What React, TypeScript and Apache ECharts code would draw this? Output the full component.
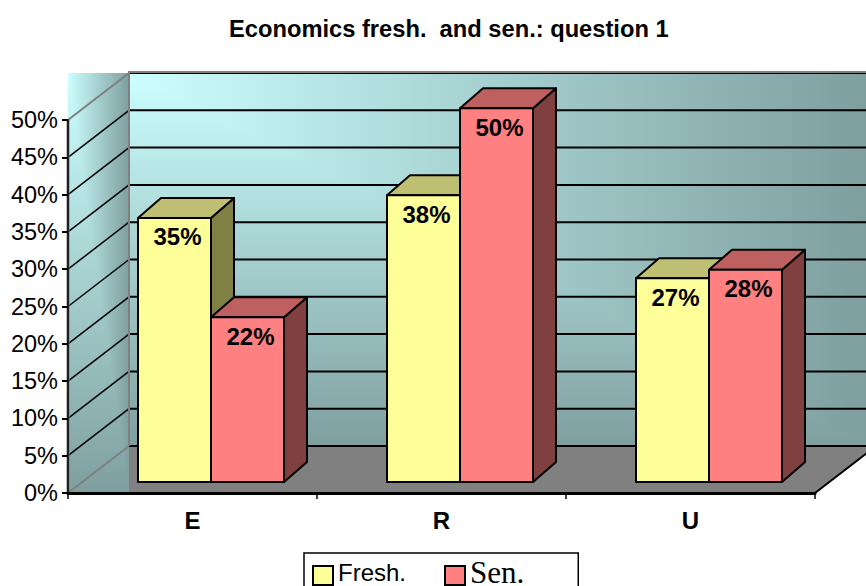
import React, { useEffect, useRef } from "react";
import * as echarts from "echarts";

const categories = ["E", "R", "U"];
const freshValues = [35.4, 38.45, 27.3];
const senValues = [22.1, 50.1, 28.45];
const yTicks = [0, 5, 10, 15, 20, 25, 30, 35, 40, 45, 50];
const titleText = "Economics fresh.  and sen.: question 1";

const SANS = '"Liberation Sans", Arial, sans-serif';
const SERIF = '"Liberation Serif", "Times New Roman", serif';
const WALL_DX = 61;
const WALL_DY = -47;
const FRONT_DX = 18.5;
const FRONT_DY = -11;
const BAR_W = 73;
const TOP_DX = 23;
const TOP_DY = -20;
const LIGHT = "#CCFFFF";
const DARK = "#7F9F9F";

// "From corner" shading: light in the top-left corner, darkening towards the right and bottom edges.
function cornerShade(x: number, y: number, w: number, h: number) {
  const stops = [
    { offset: 0, color: LIGHT },
    { offset: 1, color: DARK },
  ];
  return [
    {
      type: "rect",
      shape: { x, y, width: w, height: h },
      style: { fill: new echarts.graphic.LinearGradient(x, y, x + w, y, stops, true) },
    },
    {
      type: "polygon",
      shape: {
        points: [
          [x, y],
          [x + w, y + h],
          [x, y + h],
        ],
      },
      style: { fill: new echarts.graphic.LinearGradient(x, y, x, y + h, stops, true) },
    },
  ];
}

function renderWalls(params: any, api: any) {
  const cs = params.coordSys;
  const x0 = cs.x;
  const x1 = cs.x + cs.width;
  const yZero = api.coord([0, 0])[1];
  const yMax = api.coord([0, 50])[1];
  const children: any[] = [];
  const bx = x0 + WALL_DX;
  const topY = yMax + WALL_DY;
  const botY = yZero + WALL_DY;
  children.push(...cornerShade(bx, topY, x1 + WALL_DX - bx - 10, botY - topY));
  children.push({
    type: "polygon",
    shape: {
      points: [
        [bx, botY],
        [x1 + WALL_DX, botY],
        [x1, yZero],
        [x0, yZero],
      ],
    },
    style: { fill: "#808080" },
  });
  children.push(...cornerShade(x0, topY, WALL_DX, yZero - topY));
  yTicks.forEach((t) => {
    const y = api.coord([0, t])[1];
    const edge = t === 0 || t === 50;
    children.push({
      type: "line",
      shape: { x1: x0, y1: y, x2: bx, y2: y + WALL_DY },
      style: { stroke: edge ? "#808080" : "#000000", lineWidth: edge ? 2 : 1.5 },
    });
    children.push({
      type: "line",
      shape: { x1: bx, y1: y + WALL_DY, x2: x1 + WALL_DX, y2: y + WALL_DY },
      style: { stroke: "#000000", lineWidth: 2 },
    });
  });
  children.push({
    type: "line",
    shape: { x1: bx, y1: topY - 1, x2: x1 + WALL_DX, y2: topY - 1 },
    style: { stroke: "#808080", lineWidth: 2 },
  });
  children.push({
    type: "line",
    shape: { x1: bx, y1: topY - 2, x2: bx, y2: botY },
    style: { stroke: "#808080", lineWidth: 2 },
  });
  children.push({
    type: "line",
    shape: { x1: x0, y1: yMax, x2: x0, y2: yZero },
    style: { stroke: "#808080", lineWidth: 3 },
  });
  children.push({
    type: "line",
    shape: { x1: x1, y1: yZero, x2: x1 + WALL_DX, y2: botY },
    style: { stroke: "#000000", lineWidth: 2 },
  });
  return { type: "group", children };
}

function makeBarRenderer(side: number, front: string, top: string, dark: string) {
  return (params: any, api: any) => {
    const idx = api.value(0);
    const val = api.value(1);
    const c = api.coord([idx, val]);
    const z = api.coord([idx, 0]);
    const left = c[0] + FRONT_DX + (side === 0 ? -BAR_W : 0);
    const right = left + BAR_W;
    const yT = c[1] + FRONT_DY;
    const yB = z[1] + FRONT_DY;
    const line = { stroke: "#000000", lineWidth: 2, lineJoin: "round" };
    return {
      type: "group",
      children: [
        {
          type: "polygon",
          shape: {
            points: [
              [right, yT],
              [right + TOP_DX, yT + TOP_DY],
              [right + TOP_DX, yB + TOP_DY],
              [right, yB],
            ],
          },
          style: { fill: dark, ...line },
        },
        {
          type: "polygon",
          shape: {
            points: [
              [left, yT],
              [left + TOP_DX, yT + TOP_DY],
              [right + TOP_DX, yT + TOP_DY],
              [right, yT],
            ],
          },
          style: { fill: top, ...line },
        },
        {
          type: "rect",
          shape: { x: left, y: yT, width: BAR_W, height: yB - yT },
          style: { fill: front, ...line },
        },
        {
          type: "text",
          style: {
            text: Math.round(val) + "%",
            x: left + BAR_W / 2 + 3,
            y: yT + 19,
            align: "center",
            verticalAlign: "middle",
            fill: "#000000",
            fontFamily: SANS,
            fontWeight: "bold",
            fontSize: 24,
          },
        },
      ],
    };
  };
}

export default function App() {
  const ref = useRef<HTMLDivElement>(null);
  useEffect(() => {
    const chart = echarts.init(ref.current!, undefined, { renderer: "svg" });
    chart.setOption({
      animation: false,
      backgroundColor: "#ffffff",
      title: {
        text: titleText,
        left: 229,
        top: 17,
        padding: 0,
        textStyle: { fontFamily: SANS, fontWeight: "bold", fontSize: 23.7, color: "#000000" },
      },
      grid: { left: 68, right: 51, top: 120, bottom: 93 },
      xAxis: {
        type: "category",
        data: categories,
        z: 10,
        axisLine: { lineStyle: { color: "#000000", width: 3 } },
        axisTick: { show: true, length: 6, lineStyle: { color: "#000000", width: 1.5 } },
        axisLabel: { fontFamily: SANS, fontWeight: "bold", fontSize: 24, color: "#000000", margin: 15 },
      },
      yAxis: {
        type: "value",
        min: 0,
        max: 50,
        interval: 5,
        z: 10,
        axisLine: { show: true, lineStyle: { color: "#000000", width: 1.5 } },
        axisTick: { show: true, length: 6, lineStyle: { color: "#000000", width: 2 } },
        axisLabel: { formatter: "{value}%", fontFamily: SANS, fontSize: 23.5, color: "#000000", margin: 10 },
        splitLine: { show: false },
      },
      legend: {
        left: 304,
        top: 553,
        orient: "horizontal",
        data: ["Fresh.", "Sen."],
        padding: [4, 54, 20, 8],
        itemGap: 38,
        itemWidth: 20,
        itemHeight: 19,
        icon: "rect",
        borderColor: "#000000",
        borderWidth: 1.5,
        backgroundColor: "#ffffff",
        formatter: (name: string) => (name === "Fresh." ? `{a|${name}}` : `{b|${name}}`),
        textStyle: {
          rich: {
            a: { fontFamily: SANS, fontSize: 24, color: "#000000", lineHeight: 24, padding: [0, 0, 6, 0] },
            b: { fontFamily: SERIF, fontSize: 31, color: "#000000", lineHeight: 24, padding: [0, 0, 6, 0] },
          },
        },
      },
      series: [
        {
          type: "custom",
          name: "walls",
          silent: true,
          z: 1,
          renderItem: renderWalls,
          data: [[0, 0]],
          encode: { x: 0, y: 1 },
        },
        {
          type: "custom",
          name: "Fresh.",
          z: 3,
          itemStyle: { color: "#FFFF99", borderColor: "#000000", borderWidth: 2 },
          renderItem: makeBarRenderer(0, "#FFFF99", "#BFBF73", "#808045"),
          data: freshValues.map((v, i) => [i, v]),
          encode: { x: 0, y: 1 },
        },
        {
          type: "custom",
          name: "Sen.",
          z: 4,
          itemStyle: { color: "#FF8080", borderColor: "#000000", borderWidth: 2 },
          renderItem: makeBarRenderer(1, "#FF8080", "#BF6060", "#804040"),
          data: senValues.map((v, i) => [i, v]),
          encode: { x: 0, y: 1 },
        },
      ],
    });
    return () => chart.dispose();
  }, []);
  return (
    <div
      ref={ref}
      style={{ position: "fixed", left: 0, top: 0, width: 866, height: 586, overflow: "hidden" }}
    />
  );
}
